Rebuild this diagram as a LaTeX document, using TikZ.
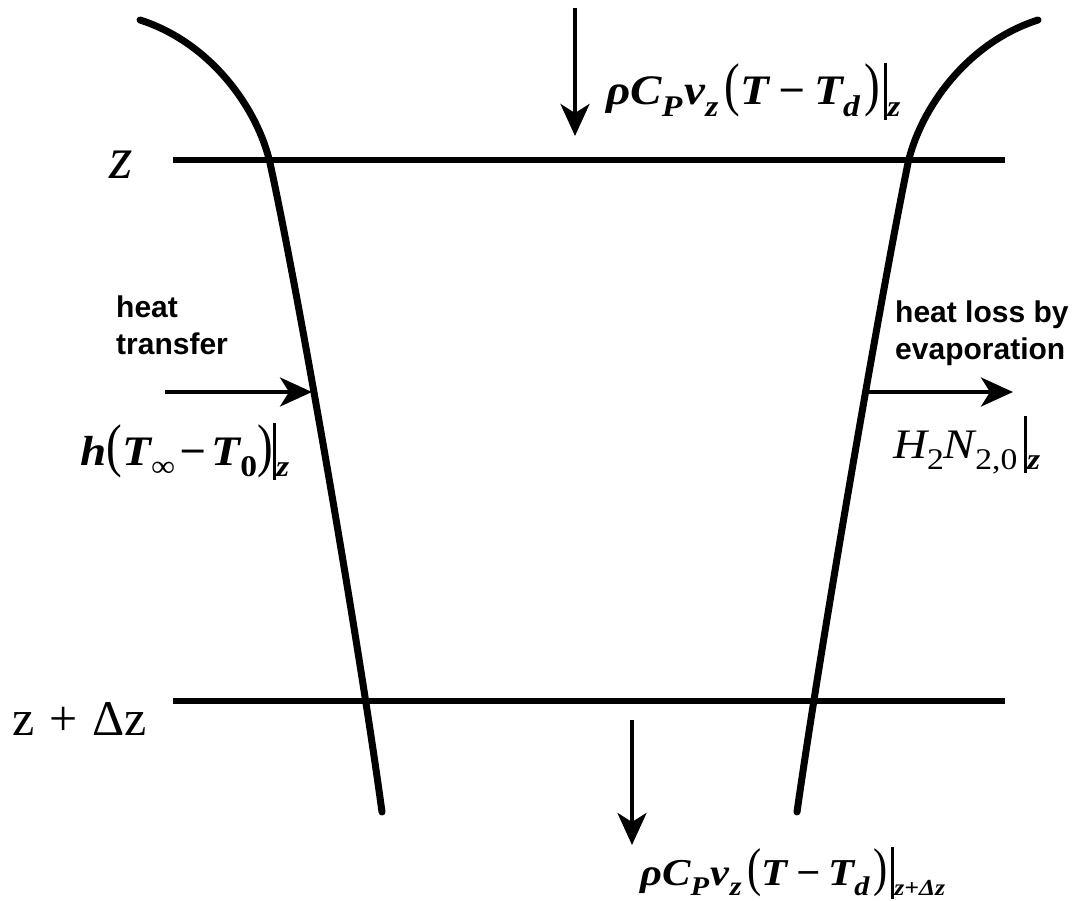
\documentclass[tikz,border=0pt]{standalone}
\usepackage{fontspec}
\setmainfont{Liberation Serif}
\newfontfamily\eqfont[FakeStretch=1.12]{Liberation Serif}
\newfontfamily\labelfont{Liberation Sans}
\usepackage{graphicx}
\usetikzlibrary{arrows.meta}

\newcommand{\lpar}{\scalebox{1}[1.4]{\mdseries\upshape(}}
\newcommand{\rpar}{\scalebox{1}[1.4]{\mdseries\upshape)}}
\newcommand{\vbar}{\rule[-0.36em]{0.08em}{1.36em}}
\newcommand{\lowsub}[2][30]{\raisebox{-0.28em}{\fontsize{#1}{#1}\selectfont #2}}

\begin{document}
\begin{tikzpicture}[x=1pt, y=-1pt,
  wall/.style={line width=7pt, line cap=round},
  level/.style={line width=6pt},
  flux/.style={line width=4pt, -{Stealth[length=32pt,width=29pt,inset=9pt]}},
  formula/.style={inner sep=0pt, font=\eqfont\fontsize{42}{50}\selectfont\bfseries\itshape},
  caption/.style={inner sep=0pt, align=left, font=\labelfont\bfseries\fontsize{30}{37}\selectfont},
]
\useasboundingbox (0,0) rectangle (1073,901);

% jet boundaries
\draw[wall] (140,20) .. controls (212,43) and (258,110) .. (270,163)
  .. controls (300,300) and (360,650) .. (382,812);
\draw[wall] (1038,20) .. controls (966,43) and (920,110) .. (908,163)
  .. controls (880,300) and (820,650) .. (797,812);

% slice planes
\coordinate (zl) at (173,160);
\coordinate (zr) at (1005,160);
\coordinate (dzl) at (173,701);
\coordinate (dzr) at (1005,701);
\draw[level] (zl) -- (zr);
\draw[level] (dzl) -- (dzr);
\node[inner sep=0pt, font=\fontsize{60}{60}\selectfont\itshape] (zlab) at (121,165) {z};
\node[inner sep=0pt, anchor=base west, font=\fontsize{50}{56}\selectfont] (dzlab) at (12,735) {z\hspace{0.3em}+\hspace{0.3em}Δz};

% convective flux in and out
\coordinate (insrc) at (575,8);
\coordinate (intip) at (575,136);
\draw[flux] (insrc) -- (intip);
\node[formula, anchor=base west] (influx) at (606,105) {ρC\lowsub{P}\hspace{0.05em}v\lowsub{z}\hspace{0.15em}\lpar T\hspace{0.2em}−\hspace{0.2em}T\lowsub{d}\hspace{0.1em}\rpar\hspace{0.1em}\vbar\lowsub{z}};
\coordinate (outsrc) at (632,720);
\coordinate (outtip) at (632,845);
\draw[flux] (outsrc) -- (outtip);
\node[formula, anchor=base west, font=\eqfont\fontsize{38}{46}\selectfont\bfseries\itshape] (outflux) at (640,885) {ρC\lowsub[27]{P}\hspace{0.05em}v\lowsub[27]{z}\hspace{0.15em}\lpar T\hspace{0.2em}−\hspace{0.2em}T\lowsub[27]{d}\hspace{0.1em}\rpar\hspace{0.1em}\vbar\lowsub[23]{z+Δz}};

% side fluxes
\coordinate (hsrc) at (165,392);
\coordinate (htip) at (312,392);
\draw[flux] (hsrc) -- (htip);
\node[caption, anchor=north west] (heatin) at (116,296) {heat\\transfer};
\node[formula, anchor=base west] (hflux) at (80,465) {h\lpar T\lowsub{∞}\hspace{0.1em}−\hspace{0.1em}T\lowsub{\upshape 0}\rpar\vbar\lowsub{z}};
\coordinate (esrc) at (868,392);
\coordinate (etip) at (1013,392);
\draw[flux] (esrc) -- (etip);
\node[caption, anchor=north west] (heatout) at (895,301) {heat loss by\\evaporation};
\node[formula, anchor=base west] (eflux) at (893,458) {\mdseries H\lowsub{\upshape 2}N\lowsub{\upshape 2,0}\hspace{0.15em}\vbar\lowsub{\bfseries z}};
\end{tikzpicture}
\end{document}
